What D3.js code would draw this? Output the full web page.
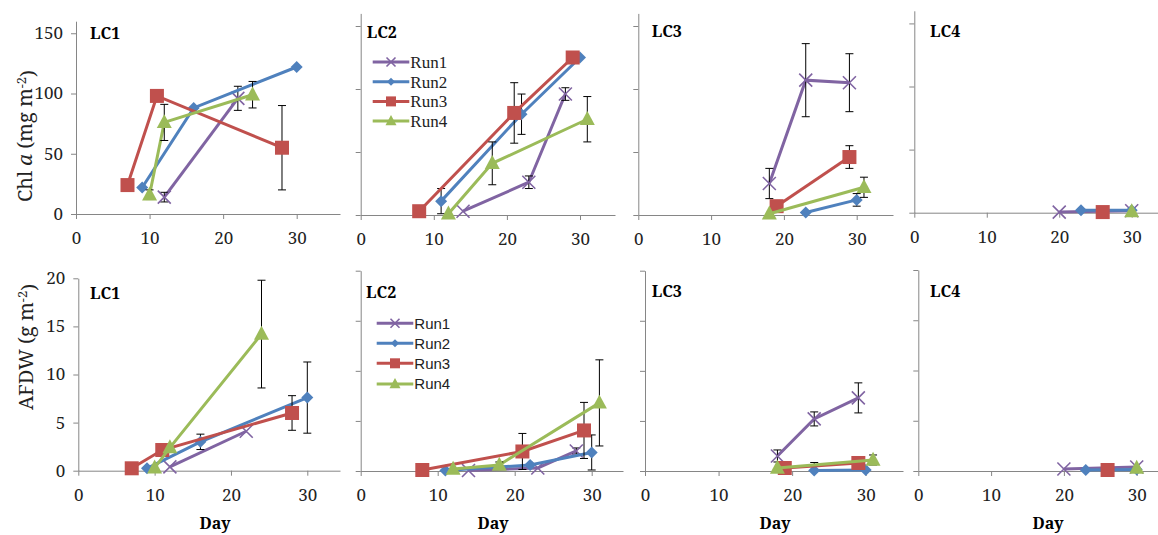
<!DOCTYPE html>
<html>
<head>
<meta charset="utf-8">
<script src="https://cdn.jsdelivr.net/npm/d3@7"></script>
<style>
  body { margin: 0; background: #fff; }
  svg { display: block; }
</style>
</head>
<body>
<div id="chart"></div>
<script>
// Series names and colours
const runNames = ["Run1", "Run2", "Run3", "Run4"];
const runColors = ["#8064A2", "#4F81BD", "#C0504D", "#9BBB59"];

// Tick labels
const xTicks = [0, 10, 20, 30];
const chlTicks = [0, 50, 100, 150];
const afdwTicks = [0, 5, 10, 15, 20];

// Chl a (mg m-2): [run, day, mean, sd]
const chlLC1 = [
  [1, 12, 14, 4], [1, 22, 96, 10],
  [2, 9, 22, 0], [2, 16, 88, 0], [2, 30, 122, 0],
  [3, 7, 24, 0], [3, 11, 98, 0], [3, 28, 55, 35],
  [4, 10, 16, 4], [4, 12, 76, 15], [4, 24, 99, 11]
];
const chlLC2 = [
  [1, 14, 3, 0], [1, 23, 26, 5], [1, 28, 96, 5],
  [2, 11, 11, 10], [2, 22, 80, 16], [2, 30, 125, 0],
  [3, 8, 3, 0], [3, 21, 81, 24], [3, 29, 125, 0],
  [4, 12, 1, 0], [4, 18, 41, 17], [4, 31, 76, 18]
];
const chlLC3 = [
  [1, 18, 25, 12], [1, 23, 107, 29], [1, 29, 105, 23],
  [2, 23, 2, 0], [2, 30, 12, 5],
  [3, 19, 7, 0], [3, 29, 46, 9],
  [4, 18, 1, 0], [4, 31, 22, 8]
];
const chlLC4 = [
  [1, 20, 0.5, 0], [1, 30, 1.5, 0],
  [2, 23, 2, 0], [2, 30, 2, 0],
  [3, 26, 0.5, 0],
  [4, 30, 1, 0]
];

// AFDW (g m-2): [run, day, mean, sd]
const afdwLC1 = [
  [1, 12, 0.4, 0], [1, 22, 4.1, 0],
  [2, 9, 0.25, 0], [2, 16, 3.0, 0.8], [2, 30, 7.6, 3.7],
  [3, 7, 0.25, 0], [3, 11, 2.15, 0.6], [3, 28, 6.0, 1.8],
  [4, 10, 0.3, 0], [4, 12, 2.4, 0], [4, 24, 14.2, 5.6]
];
const afdwLC2 = [
  [1, 14, 0.05, 0], [1, 23, 0.3, 0], [1, 28, 2.0, 0.3],
  [2, 11, 0.05, 0], [2, 22, 0.6, 0], [2, 30, 1.85, 1.75],
  [3, 8, 0.1, 0], [3, 21, 1.95, 1.8], [3, 29, 4.05, 2.8],
  [4, 12, 0.2, 0], [4, 18, 0.6, 0.3], [4, 31, 6.8, 4.3]
];
const afdwLC3 = [
  [1, 18, 1.5, 0.6], [1, 23, 5.2, 0.7], [1, 29, 7.3, 1.5],
  [2, 23, 0.05, 0.8], [2, 30, 0.1, 0],
  [3, 19, 0.3, 0], [3, 29, 0.8, 0],
  [4, 18, 0.3, 0], [4, 31, 1.1, 0.5]
];
const afdwLC4 = [
  [1, 20, 0.2, 0], [1, 30, 0.4, 0],
  [2, 23, 0.1, 0], [2, 30, 0.15, 0],
  [3, 26, 0.1, 0],
  [4, 30, 0.3, 0]
];

const width = 1158, height = 535;
const serif = "'Noto Serif', 'Liberation Serif', serif";
const legendSerif = "'Liberation Serif', serif";
const sans = "'Liberation Sans', Arial, sans-serif";
const axisColor = "#868686";

const svg = d3.select("#chart")
  .append("svg")
  .attr("width", width)
  .attr("height", height);

// panel layout (pixel positions of 0 and 30 on x, 0 and max on y)
const panels = [
  {data: chlLC1, label: "LC1", yMax: 160, ticks: chlTicks, x0: 76, x30: 296.7, xEnd: 340, y0: 214, yTop: 21.2, yLabels: true, lx: 90, ly: 39},
  {data: chlLC2, label: "LC2", yMax: 160, ticks: chlTicks, x0: 360.7, x30: 580, xEnd: 615, y0: 215, yTop: 13.4, lx: 366.7, ly: 38, legend: "serif"},
  {data: chlLC3, label: "LC3", yMax: 160, ticks: chlTicks, x0: 638.3, x30: 856.7, xEnd: 893, y0: 215, yTop: 13.4, lx: 651.7, ly: 37},
  {data: chlLC4, label: "LC4", yMax: 160, ticks: chlTicks, x0: 914.3, x30: 1131.7, xEnd: 1158, y0: 212.7, yTop: 10.8, lx: 930, ly: 37},
  {data: afdwLC1, label: "LC1", yMax: 20, ticks: afdwTicks, x0: 78.3, x30: 307.3, xEnd: 340, y0: 470.7, yTop: 278.3, yLabels: true, lx: 90, ly: 298.5, day: 215},
  {data: afdwLC2, label: "LC2", yMax: 20, ticks: afdwTicks, x0: 360.7, x30: 591.7, xEnd: 623, y0: 471, yTop: 270.7, lx: 366, ly: 298, legend: "sans", day: 493},
  {data: afdwLC3, label: "LC3", yMax: 20, ticks: afdwTicks, x0: 645, x30: 865.7, xEnd: 903, y0: 471, yTop: 270.7, lx: 651.7, ly: 297, day: 775},
  {data: afdwLC4, label: "LC4", yMax: 20, ticks: afdwTicks, x0: 918.3, x30: 1136.7, xEnd: 1158, y0: 471, yTop: 270, lx: 930, ly: 297, day: 1048}
];

// draw one marker of the given run type
function marker(g, type, cx, cy, s, color) {
  const h = s / 2;
  if (type === 0) {
    g.append("path")
      .attr("d", `M${cx - h},${cy - h}L${cx + h},${cy + h}M${cx - h},${cy + h}L${cx + h},${cy - h}`)
      .attr("stroke", color).attr("stroke-width", 1.6).attr("fill", "none");
  } else if (type === 1) {
    g.append("path")
      .attr("d", `M${cx},${cy - h}L${cx + h},${cy}L${cx},${cy + h}L${cx - h},${cy}Z`)
      .attr("fill", color);
  } else if (type === 2) {
    g.append("rect")
      .attr("x", cx - h).attr("y", cy - h)
      .attr("width", s).attr("height", s)
      .attr("fill", color);
  } else {
    g.append("path")
      .attr("d", `M${cx},${cy - s * 0.55}L${cx + h},${cy + s * 0.38}L${cx - h},${cy + s * 0.38}Z`)
      .attr("fill", color);
  }
}

const markerSize = [13, 12, 14, 15];

panels.forEach(p => {
  const g = svg.append("g");
  const xMax = 30 * (p.xEnd - p.x0) / (p.x30 - p.x0);
  const x = d3.scaleLinear().domain([0, xMax]).range([p.x0, p.xEnd]);
  const y = d3.scaleLinear().domain([0, p.yMax]).range([p.y0, p.yTop]);

  // x axis
  const xa = g.append("g")
    .attr("transform", `translate(0,${p.y0})`)
    .call(d3.axisBottom(x).tickValues(xTicks).tickSize(5).tickSizeOuter(0).tickPadding(13));

  // y axis
  const ya = g.append("g")
    .attr("transform", `translate(${p.x0},0)`)
    .call(d3.axisLeft(y).tickValues(p.ticks).tickSize(5).tickSizeOuter(0).tickPadding(8)
      .tickFormat(p.yLabels ? d3.format("d") : () => ""));

  [xa, ya].forEach(a => {
    a.attr("font-family", null).attr("font-size", null);
    a.select(".domain").attr("stroke", axisColor);
    a.selectAll(".tick line").attr("stroke", axisColor);
    a.selectAll("text")
      .style("font-family", serif)
      .style("font-size", "17px")
      .attr("fill", "#222");
  });

  // series: line, error bars, markers
  runNames.forEach((name, i) => {
    const pts = p.data.filter(d => d[0] === i + 1);
    if (pts.length > 1) {
      g.append("path")
        .datum(pts)
        .attr("fill", "none")
        .attr("stroke", runColors[i])
        .attr("stroke-width", 3)
        .attr("d", d3.line().x(d => x(d[1])).y(d => y(d[2])));
    }
    pts.filter(d => d[3] > 0).forEach(d => {
      const cx = x(d[1]);
      const yt = y(d[2] + d[3]);
      const yb = y(Math.max(0, d[2] - d[3]));
      g.append("path")
        .attr("d", `M${cx},${yt}V${yb}M${cx - 4},${yt}H${cx + 4}M${cx - 4},${yb}H${cx + 4}`)
        .attr("stroke", "#000")
        .attr("stroke-width", 1)
        .attr("fill", "none");
    });
    pts.forEach(d => marker(g, i, x(d[1]), y(d[2]), markerSize[i], runColors[i]));
  });

  // panel label
  g.append("text")
    .attr("x", p.lx)
    .attr("y", p.ly)
    .style("font-family", serif)
    .style("font-size", "16px")
    .style("font-weight", "bold")
    .text(p.label);

  // legend
  if (p.legend) {
    const isSerif = p.legend === "serif";
    const lx0 = isSerif ? 372.7 : 376.7;
    const lx1 = isSerif ? 409.3 : 413.3;
    const rows = isSerif ? [62, 81.7, 101.4, 121.1] : [323.3, 343.3, 363.3, 384];
    const lsize = [9, 8, 10, 11];
    runNames.forEach((name, i) => {
      const ry = rows[i];
      g.append("line")
        .attr("x1", lx0).attr("x2", lx1)
        .attr("y1", ry).attr("y2", ry)
        .attr("stroke", runColors[i])
        .attr("stroke-width", 3);
      marker(g, i, (lx0 + lx1) / 2, ry, lsize[i], runColors[i]);
      g.append("text")
        .attr("x", lx1 + 1)
        .attr("y", ry)
        .attr("dy", "0.35em")
        .style("font-family", isSerif ? legendSerif : sans)
        .style("font-size", isSerif ? "17px" : "15px")
        .attr("fill", "#222")
        .text(name);
    });
  }

  // x axis title
  if (p.day) {
    g.append("text")
      .attr("x", p.day)
      .attr("y", 529)
      .style("font-family", serif)
      .style("font-size", "16px")
      .style("font-weight", "bold")
      .style("text-anchor", "middle")
      .text("Day");
  }
});

// y axis titles
function yTitle(cx, cy, parts) {
  const t = svg.append("text")
    .attr("transform", `translate(${cx},${cy}) rotate(-90)`)
    .style("font-family", serif)
    .style("font-size", "20px")
    .style("text-anchor", "middle")
    .attr("fill", "#222");
  parts.forEach(pt => {
    const s = t.append("tspan").text(pt.t);
    if (pt.italic) s.style("font-style", "italic");
    if (pt.sup) s.attr("dy", "-0.45em").style("font-size", "13px");
    if (pt.after) s.attr("dy", "0.45em");
  });
}

yTitle(31.5, 136, [{t: "Chl "}, {t: "a", italic: true}, {t: " (mg m"}, {t: "-2", sup: true}, {t: ")", after: true}]);
yTitle(33, 347, [{t: "AFDW (g m"}, {t: "-2", sup: true}, {t: ")", after: true}]);
</script>
</body>
</html>
